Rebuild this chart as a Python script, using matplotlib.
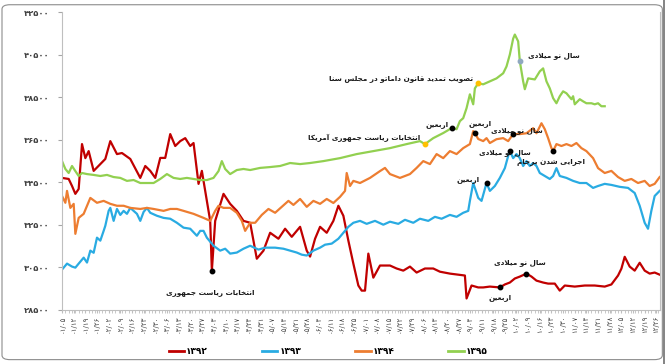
import matplotlib
matplotlib.use("Agg")
import matplotlib.pyplot as plt
from matplotlib.lines import Line2D
from matplotlib.patches import FancyBboxPatch

plt.rcParams['font.family'] = ['DejaVu Sans']

# ---- data (price) ----
# 1392 (red)
days_92 = [0, 4, 6, 8, 10, 12, 14, 16, 19, 23, 26, 29, 33, 36, 41, 47, 50, 53, 56, 59, 62, 65, 68, 71,
           74, 77, 79, 82, 84, 87, 89, 90, 92, 97, 101, 105, 109, 113, 117, 121, 125, 130, 134, 138,
           143, 147, 149, 152, 155, 159, 163, 166, 169, 172, 175, 178, 180, 182, 184, 187, 191, 197,
           201, 205, 209, 213, 218, 223, 227, 233, 238, 242, 243, 246, 250, 253, 257, 263, 266, 269,
           272, 275, 279, 282, 285, 289, 292, 296, 299, 302, 308, 314, 320, 326, 330, 334, 336, 338,
           341, 344, 347, 350, 353, 356, 359]
vals_92 = [34700, 34650, 34320, 33950, 34180, 36290, 35630, 35960, 35030, 35350, 35590, 36430, 35820,
           35870, 35590, 34700, 35260, 35030, 34700, 35640, 35640, 36760, 36200, 36430, 36570, 36200,
           36340, 34420, 35030, 33620, 32680, 30340, 32680, 33950, 33480, 33150, 32680, 32590, 30900,
           31280, 32120, 31840, 32310, 31930, 32400, 31280, 31000, 31840, 32400, 32120, 32680, 33390,
           32920, 31750, 30670, 29640, 29400, 29400, 31140, 30010, 30580, 30580, 30440, 30340, 30530,
           30250, 30440, 30440, 30290, 30200, 30150, 30110, 29030, 29640, 29550, 29550, 29590, 29550,
           29690, 29780, 29970, 30060, 30200, 30060, 29870, 29780, 29730, 29730, 29400, 29640, 29590,
           29640, 29640, 29590, 29690, 30110, 30430, 30990, 30530, 30340, 30710, 30340, 30200, 30250,
           30150]

# 1393 (blue)
days_93 = [0, 3, 6, 8, 10, 13, 15, 17, 19, 21, 23, 25, 26, 28, 29, 31, 33, 35, 37, 39, 41, 43, 45, 47,
           49, 51, 53, 57, 61, 65, 69, 73, 77, 81, 83, 85, 87, 91, 95, 98, 101, 105, 109, 113, 118,
           122, 128, 133, 137, 141, 144, 147, 151, 155, 158, 162, 166, 169, 172, 175, 179, 183, 188,
           193, 197, 202, 206, 211, 215, 220, 224, 228, 233, 237, 241, 244, 245, 247, 250, 252, 255,
           257, 260, 263, 266, 268, 269, 271, 273, 275, 277, 279, 281, 283, 285, 287, 290, 293, 295,
           297, 299, 303, 307, 311, 315, 319, 322, 326, 330, 335, 340, 344, 347, 350, 352, 354, 356,
           359]
vals_93 = [30390, 30670, 30530, 30480, 30670, 30950, 30720, 31280, 31180, 31890, 31750, 32210, 32450,
           33150, 33290, 32680, 33240, 32960, 33150, 33010, 33290, 33150, 33010, 32680, 33100, 33290,
           33060, 32920, 32820, 32780, 32590, 32360, 32310, 31980, 32210, 32210, 31890, 31510, 31280,
           31370, 31140, 31190, 31370, 31510, 31330, 31420, 31420, 31370, 31280, 31190, 31090, 31050,
           31280, 31420, 31560, 31610, 31840, 32120, 32400, 32590, 32680, 32540, 32680, 32500, 32640,
           32540, 32730, 32590, 32780, 32680, 32870, 32780, 32960, 32870, 33060, 33150, 33620, 34460,
           33760, 33620, 34460, 34090, 34320, 34700, 35160, 35730, 35960, 35630, 35820, 35630, 35260,
           35490, 35260, 35400, 35260, 34930, 34790, 34650, 34790, 35160, 34790, 34700, 34560, 34460,
           34460, 34230, 34320, 34420, 34370, 34280, 34230, 33990, 33390, 32590, 32310, 33150, 33850,
           34090]

# 1394 (orange)
days_94 = [0, 2, 3, 5, 7, 8, 10, 13, 17, 21, 25, 29, 33, 37, 41, 47, 51, 55, 61, 65, 69, 73, 79, 85,
           89, 92, 94, 97, 101, 105, 108, 110, 113, 116, 120, 124, 128, 132, 136, 139, 143, 147, 151,
           155, 159, 163, 167, 170, 171, 173, 175, 179, 185, 191, 194, 197, 203, 209, 213, 217, 221,
           225, 229, 233, 237, 241, 245, 247, 248, 250, 253, 255, 257, 261, 265, 268, 271, 275, 279,
           283, 285, 288, 290, 292, 294, 295, 297, 300, 303, 306, 309, 312, 315, 319, 322, 326, 330,
           334, 338, 342, 346, 350, 353, 356, 359]
vals_94 = [33850, 33530, 34090, 33290, 33480, 32070, 32820, 33010, 33760, 33530, 33620, 33480, 33390,
           33390, 33290, 33240, 33290, 33240, 33150, 33240, 33240, 33150, 33010, 32820, 32680, 33150,
           33390, 33290, 33290, 33060, 32680, 32210, 32590, 32590, 32960, 33240, 33060, 33340, 33620,
           33430, 33710, 33340, 33620, 33480, 33710, 33520, 33810, 34090, 34930, 34320, 34560, 34460,
           34700, 35020, 35170, 34880, 34700, 34880, 35170, 35490, 35350, 35820, 35630, 35960, 35820,
           36100, 36290, 36900, 36810, 36530, 36430, 36570, 36340, 36520, 36570, 36430, 36760, 36760,
           36800, 37040, 36800, 37270, 36990, 36570, 36100, 35960, 36290, 36200, 36290, 36200, 36340,
           36100, 35960, 35630, 35160, 34930, 35030, 34740, 34560, 34650, 34460, 34560, 34320, 34420,
           34740]

# 1395 (green)
days_95 = [0, 2, 4, 6, 8, 10, 12, 15, 19, 23, 27, 31, 35, 39, 43, 47, 51, 55, 59, 63, 67, 71, 75, 79,
           83, 87, 91, 94, 96, 98, 101, 105, 109, 113, 119, 125, 131, 137, 143, 149, 157, 167, 177,
           187, 197, 207, 215, 218, 223, 229, 234, 237, 239, 241, 243, 245, 247, 248, 250, 253, 257,
           261, 265, 267, 269, 271, 272, 274, 275, 277, 278, 280, 284, 287, 289, 291, 293, 295, 297,
           299, 301, 303, 306, 307, 308, 311, 313, 315, 318, 320, 322, 324, 326]
vals_95 = [35490, 35120, 34930, 35260, 35020, 34790, 34930, 34880, 34840, 34790, 34840, 34740, 34700,
           34560, 34600, 34460, 34460, 34460, 34650, 34880, 34700, 34650, 34700, 34650, 34600, 34600,
           34700, 35020, 35490, 35120, 34880, 35070, 35120, 35070, 35170, 35210, 35260, 35400, 35350,
           35400, 35490, 35630, 35820, 35960, 36100, 36290, 36430, 36290, 36570, 36810, 37040, 36990,
           37370, 37510, 37980, 38630, 38160, 38910, 39150, 39100, 39240, 39380, 39620, 39940, 40500,
           41250, 41440, 41120, 40180, 39240, 38870, 39380, 39330, 39710, 39850, 39240, 38910, 38450,
           38210, 38540, 38770, 38680, 38400, 38540, 38160, 38400, 38300, 38210, 38210, 38160, 38210,
           38070, 38070]

series_names = ['1392', '1393', '1394', '1395']
series_colors = ['#C00000', '#29ABE2', '#ED7D31', '#92D050']

# events: (day of marker, value of marker, text, text day, text value, alignment, marker colour)
note_days = [90, 263, 279, 255, 269, 248, 271, 295, 218, 234, 250, 275]
note_vals = [30340, 29550, 30200, 34460, 35960, 36810, 36760, 35960, 36290, 37040, 39150, 40220]
note_texts = ['انتخابات ریاست جمهوری', 'اربعین', 'سال نو میلادی', 'اربعین', 'سال نو میلادی',
              'اربعین', 'سال نو میلادی', 'اجرایی شدن برجام', 'انتخابات ریاست جمهوری آمریکا',
              'اربعین', 'تصویب تمدید قانون داماتو در مجلس سنا', 'سال نو میلادی']
note_tx = [89, 263, 275, 251, 266, 251, 273, 294, 215, 232, 247, 280]
note_ty = [29310, 29080, 30720, 34600, 35900, 37270, 36950, 35450, 36570, 37230, 39380, 40460]
note_ha = ['center', 'center', 'center', 'right', 'center', 'center', 'center', 'center', 'right',
           'right', 'right', 'left']
note_mc = ['k', 'k', 'k', 'k', 'k', 'k', 'k', 'k', '#FFC000', 'k', '#FFC000', '#8FA8BF']

y_ticks = [28500, 30500, 32500, 34500, 36500, 38500, 40500, 42500]

# ---- persian helpers: digits and hand-made letter joining ----
FA_DIGITS = str.maketrans('0123456789', '۰۱۲۳۴۵۶۷۸۹')

# isolated, final, initial, medial
FORMS = {
    '\u0627': ('\uFE8D', '\uFE8E', None, None),
    '\u0622': ('\uFE81', '\uFE82', None, None),
    '\u0628': ('\uFE8F', '\uFE90', '\uFE91', '\uFE92'),
    '\u062A': ('\uFE95', '\uFE96', '\uFE97', '\uFE98'),
    '\u062C': ('\uFE9D', '\uFE9E', '\uFE9F', '\uFEA0'),
    '\u062E': ('\uFEA5', '\uFEA6', '\uFEA7', '\uFEA8'),
    '\u062F': ('\uFEA9', '\uFEAA', None, None),
    '\u0631': ('\uFEAD', '\uFEAE', None, None),
    '\u0633': ('\uFEB1', '\uFEB2', '\uFEB3', '\uFEB4'),
    '\u0634': ('\uFEB5', '\uFEB6', '\uFEB7', '\uFEB8'),
    '\u0635': ('\uFEB9', '\uFEBA', '\uFEBB', '\uFEBC'),
    '\u0639': ('\uFEC9', '\uFECA', '\uFECB', '\uFECC'),
    '\u0642': ('\uFED5', '\uFED6', '\uFED7', '\uFED8'),
    '\u06A9': ('\uFB8E', '\uFB8F', '\uFB90', '\uFB91'),
    '\u0644': ('\uFEDD', '\uFEDE', '\uFEDF', '\uFEE0'),
    '\u0645': ('\uFEE1', '\uFEE2', '\uFEE3', '\uFEE4'),
    '\u0646': ('\uFEE5', '\uFEE6', '\uFEE7', '\uFEE8'),
    '\u0647': ('\uFEE9', '\uFEEA', '\uFEEB', '\uFEEC'),
    '\u0648': ('\uFEED', '\uFEEE', None, None),
    '\u06CC': ('\uFBFC', '\uFBFD', '\uFBFE', '\uFBFF'),
}
LAM_ALEF = {'\u0627': ('\uFEFB', '\uFEFC'), '\u0622': ('\uFEF5', '\uFEF6')}


def joins_next(c):
    return c in FORMS and FORMS[c][2] is not None


def fa(text):
    text = text.replace('\u064A', '\u06CC').replace('\u0643', '\u06A9')
    out = []
    i = 0
    n = len(text)
    while i < n:
        c = text[i]
        if c not in FORMS:
            out.append(c)
            i += 1
            continue
        prev_join = i > 0 and joins_next(text[i - 1])
        if c == '\u0644' and i + 1 < n and text[i + 1] in LAM_ALEF:
            lig = LAM_ALEF[text[i + 1]]
            out.append(lig[1] if prev_join else lig[0])
            i += 2
            continue
        next_join = joins_next(c) and i + 1 < n and text[i + 1] in FORMS
        iso, fin, ini, med = FORMS[c]
        if prev_join and next_join:
            out.append(med)
        elif prev_join:
            out.append(fin)
        elif next_join:
            out.append(ini)
        else:
            out.append(iso)
        i += 1
    return ''.join(reversed(out))


# x tick labels: weekly dates (month/day), persian calendar
month_len = [31] * 6 + [30] * 5 + [29]
tick_days = list(range(0, 360, 7))
tick_labels = []
for d in tick_days:
    doy = 4 + d
    m = 0
    while doy >= month_len[m]:
        doy -= month_len[m]
        m += 1
    tick_labels.append(('%02d/%02d' % (m + 1, doy + 1)).translate(FA_DIGITS))

# ---- figure ----
fig = plt.figure(figsize=(6.67, 3.64), dpi=100, facecolor='w')
ax = fig.add_axes([0.093, 0.149, 0.896, 0.818])

all_days = [days_92, days_93, days_94, days_95]
all_vals = [vals_92, vals_93, vals_94, vals_95]
for d, v, c in zip(all_days, all_vals, series_colors):
    ax.plot(d, v, color=c, lw=1.6, solid_joinstyle='round')

for i in range(len(note_days)):
    ax.plot(note_days[i], note_vals[i], 'o', color=note_mc[i], ms=3.2, zorder=5)
    ax.text(note_tx[i], note_ty[i], fa(note_texts[i]), ha=note_ha[i], va='center',
            fontsize=5.2, fontweight='bold', color='#1a1a1a', zorder=6)

ax.set_xlim(0, 359)
ax.set_ylim(28500, 42500)
ax.set_yticks(y_ticks)
ax.set_yticklabels([str(t).translate(FA_DIGITS) for t in y_ticks], fontsize=6,
                   fontweight='bold', color='#404040')
ax.set_xticks(tick_days)
ax.set_xticklabels(tick_labels, rotation=90, fontsize=5, color='#404040')
ax.set_xticks(range(0, 360, 2), minor=True)
ax.tick_params(axis='y', length=3, color='#A6A6A6', pad=6)
ax.tick_params(axis='x', which='both', length=2, color='#BFBFBF', pad=2)

for s in ['left', 'bottom', 'right']:
    ax.spines[s].set_color('#BFBFBF')
    ax.spines[s].set_linewidth(0.8)
ax.spines['top'].set_visible(False)

# legend
handles = [Line2D([0], [0], color=c, lw=2) for c in series_colors]
fig.legend(handles, [n.translate(FA_DIGITS) for n in series_names], loc='center',
           bbox_to_anchor=(0.492, 0.033), ncol=4, frameon=False,
           handlelength=1.7, handletextpad=0.2, columnspacing=6.0, prop={'weight': 'bold', 'size': 6.5})

# chart frame
frame = FancyBboxPatch((0.003, 0.012), 0.99, 0.975, boxstyle='round,pad=0,rounding_size=0.012',
                       transform=fig.transFigure, fill=False, ec='#8C8C8C', lw=0.8)
fig.patches.append(frame)
fig.add_artist(Line2D([0.996, 0.996], [0, 1], transform=fig.transFigure, color='#6E6E6E', lw=1.2))

fig.savefig('out.png', dpi=100)
